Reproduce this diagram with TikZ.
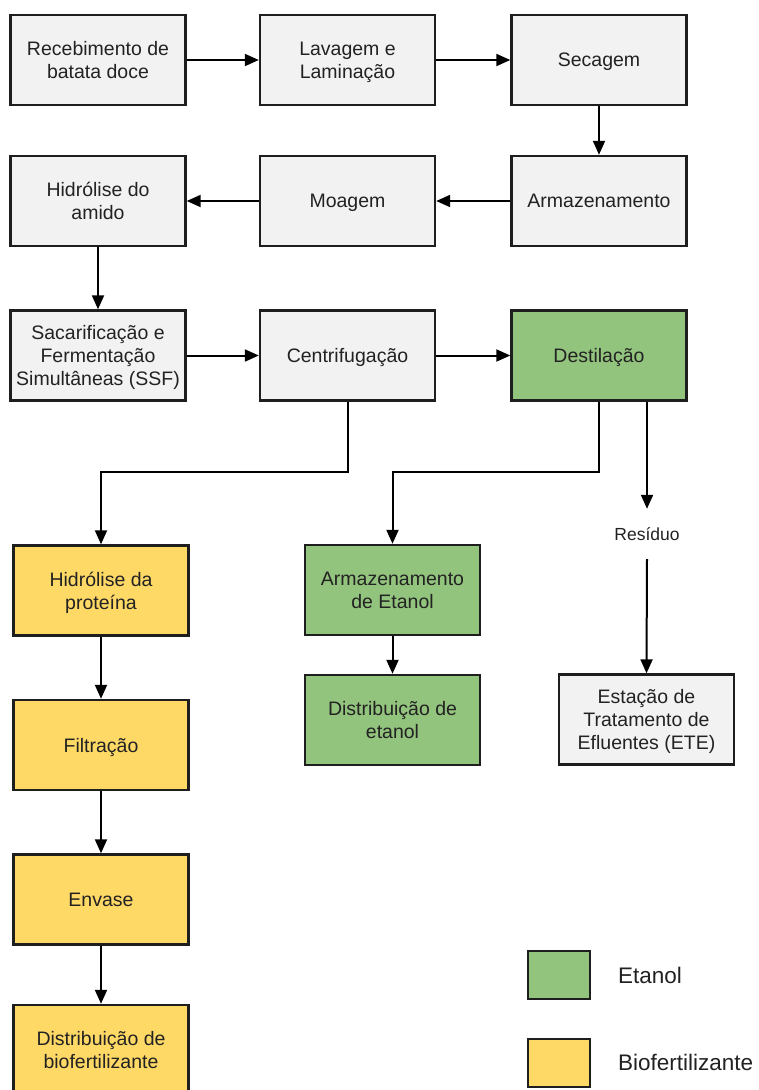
\documentclass[tikz,border=0pt]{standalone}
\usepackage{fontspec}
\setmainfont{Liberation Sans}
\usetikzlibrary{arrows.meta}
\definecolor{boxgray}{HTML}{F2F2F2}
\definecolor{boxgreen}{HTML}{93C47D}
\definecolor{boxyellow}{HTML}{FFD966}
\definecolor{edge}{HTML}{1E1E1E}
\definecolor{txt}{HTML}{222222}
\tikzset{
  proc/.style={draw=edge, line width=2.4pt, minimum width=175pt, minimum height=90pt,
    inner sep=2pt, align=center, text=txt, text depth=0pt, font=\fontsize{19.5}{23}\selectfont},
  grayproc/.style={proc, fill=boxgray},
  greenproc/.style={proc, fill=boxgreen},
  yellowproc/.style={proc, fill=boxyellow},
  arr/.style={draw=black, line width=2pt, -{Triangle[length=14pt,width=12pt]}},
  legbox/.style={draw=edge, line width=2.4pt, minimum width=62pt, minimum height=48pt, inner sep=0pt},
  legtext/.style={anchor=base west, text=txt, font=\fontsize{22.5}{27}\selectfont, inner sep=0pt}
}
\begin{document}
\begin{tikzpicture}[x=1pt,y=-1pt]
\useasboundingbox[fill=white] (0,0) rectangle (759,1090);
% row 1
\node[grayproc] (rec) at (98,60) {Recebimento de\\batata doce};
\node[grayproc] (lav) at (347.5,60) {Lavagem e\\Laminação};
\node[grayproc] (sec) at (599,60) {Secagem};
% row 2
\node[grayproc] (hid) at (98,201) {Hidrólise do\\amido};
\node[grayproc] (moa) at (347.5,201) {Moagem};
\node[grayproc] (arm) at (599,201) {Armazenamento};
% row 3
\node[grayproc] (ssf) at (98,355.5) {Sacarificação e\\Fermentação\\Simultâneas (SSF)};
\node[grayproc] (cen) at (347.5,355.5) {Centrifugação};
\node[greenproc] (des) at (599,355.5) {Destilação};
% biofertilizer column
\node[yellowproc] (hp) at (101,590.5) {Hidrólise da\\proteína};
\node[yellowproc] (fil) at (101,745) {Filtração};
\node[yellowproc] (env) at (101,899.5) {Envase};
\node[yellowproc] (dbf) at (101,1050) {Distribuição de\\biofertilizante};
% ethanol column
\node[greenproc] (aet) at (392.5,590) {Armazenamento\\de Etanol};
\node[greenproc] (det) at (392.5,720) {Distribuição de\\etanol};
% residue
\node[minimum height=50pt, inner sep=0pt, text=txt, font=\fontsize{17.5}{21}\selectfont] (res) at (647,534) {Resíduo};
\node[grayproc] (ete) at (646.5,719.5) {Estação de\\Tratamento de\\Efluentes (ETE)};
% connectors
\draw[arr] (rec) -- (lav);
\draw[arr] (lav) -- (sec);
\draw[arr] (sec) -- (arm);
\draw[arr] (arm) -- (moa);
\draw[arr] (moa) -- (hid);
\draw[arr] (hid) -- (ssf);
\draw[arr] (ssf) -- (cen);
\draw[arr] (cen) -- (des);
\coordinate (j1) at (347.5,472);
\draw[arr] (cen.south) -- (j1) -| (hp.north);
\draw[arr] (des.south) -- (des.south |- j1) -| (aet.north);
\draw[arr] (des.south -| res.north) -- (res.north);
\draw[arr] (res.south) -- (ete.north);
\draw[arr] (aet) -- (det);
\draw[arr] (hp) -- (fil);
\draw[arr] (fil) -- (env);
\draw[arr] (env) -- (dbf);
% legend
\node[legbox, fill=boxgreen] (lg) at (559,975) {};
\node[legbox, fill=boxyellow] (ly) at (559,1063) {};
\node[legtext] (lgt) at (618,983) {Etanol};
\node[legtext] (lyt) at (618,1070) {Biofertilizante};
\end{tikzpicture}
\end{document}
